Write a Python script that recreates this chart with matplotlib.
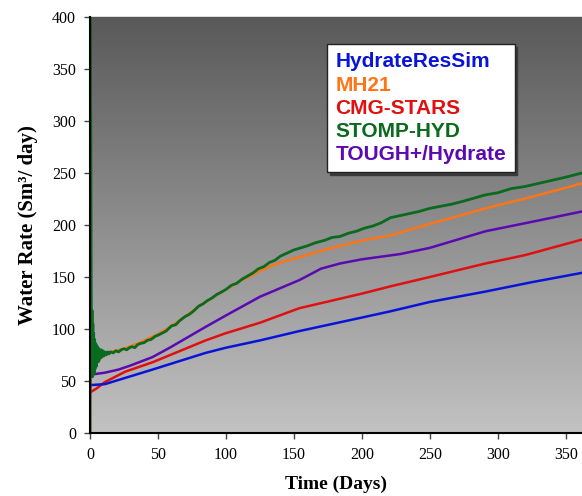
import numpy as np
import matplotlib
matplotlib.use("Agg")
import matplotlib.pyplot as plt
from matplotlib.lines import Line2D
from matplotlib.colors import LinearSegmentedColormap

# ---------------- data ----------------
names = ["HydrateResSim", "MH21", "CMG-STARS", "STOMP-HYD", "TOUGH+/Hydrate"]
colors = ["#0a14d8", "#ff7414", "#e01010", "#0a6a1e", "#5a0ab0"]

hrs_t = [0, 11, 26, 46, 85, 100, 125, 154, 200, 221, 250, 291, 325, 362]
hrs_v = [46, 47, 53, 61, 77, 82, 89, 98, 111, 117, 126, 136, 145, 154]

mh21_t = [0, 5, 15, 25, 35, 50, 60, 70, 80, 90, 100, 110, 118, 125, 140, 154, 175,
          200, 221, 250, 291, 325, 362]
mh21_v = [72, 74, 78, 81, 86, 95, 103, 112, 122, 130, 138, 146, 151, 156, 164, 169,
          177, 185, 190, 201, 216, 227, 240]

cmg_t = [0, 0, 0, 5, 11, 26, 46, 85, 100, 125, 154, 200, 221, 250, 291, 320, 362]
cmg_v = [0, 65, 39, 43, 49, 59, 68, 89, 96, 106, 120, 134, 141, 150, 163, 171, 186]

stomp_t = [0, 0, 0.3, 0.6, 0.9, 1.2, 1.5, 1.8, 2.1, 2.4, 2.7, 3.0, 3.4, 3.8, 4.2,
           4.6, 5.0, 5.5, 6.0, 6.5, 7.0, 7.6, 8.2, 8.8, 9.5, 10.2, 11, 12, 13, 14,
           15, 17, 19, 21, 23, 25, 27, 29, 31, 33, 35, 37, 40, 42, 45, 48,
           50, 53, 56, 60, 63, 66, 70, 73, 76, 80, 83, 86, 90, 93, 96, 100, 104, 108,
           112, 116, 120, 124, 128, 132, 136, 140, 145, 150, 155, 160, 166, 172, 178,
           184, 190, 196, 202, 208, 214, 221, 228, 235, 242, 250, 258, 266, 275, 283,
           291, 300, 310, 320, 330, 340, 350, 356, 362]
stomp_v = [0, 400, 330, 300, 138, 58, 118, 54, 105, 60, 96, 57, 90, 62, 86,
           64, 84, 68, 82, 69, 80, 72, 80, 73, 79, 74, 78, 75, 78, 76,
           78, 77, 79, 78, 80, 81, 80, 82, 83, 82, 85, 86, 87, 89, 90, 93,
           94, 96, 98, 103, 104, 108, 112, 114, 117, 122, 124, 127, 130, 133, 135, 138, 142, 144,
           148, 151, 154, 158, 160, 164, 166, 170, 173, 176, 178, 180, 183, 185, 188,
           189, 192, 194, 197, 199, 202, 207, 209, 211, 213, 216, 218, 220, 223, 226,
           229, 231, 235, 237, 240, 243, 246, 248, 250]

tough_t = [0, 0, 11, 21, 30, 46, 60, 85, 100, 125, 154, 170, 184, 200, 228, 250,
           291, 325, 362]
tough_v = [101, 56, 58, 61, 65, 73, 83, 102, 113, 131, 147, 158, 163, 167, 172, 178,
           194, 203, 213]

xticks = [0, 50, 100, 150, 200, 250, 300, 350]
yticks = [0, 50, 100, 150, 200, 250, 300, 350, 400]

# ---------------- figure ----------------
fig = plt.figure(figsize=(5.82, 4.96), dpi=100)
ax = fig.add_axes([90 / 582, 63 / 496, 492 / 582, 416 / 496])
ax.set_xlim(0, 362)
ax.set_ylim(0, 400)

# gradient background
cmap = LinearSegmentedColormap.from_list("bg", ["#c2c2c2", "#595959"])
grad = np.linspace(0, 1, 256).reshape(-1, 1)
ax.imshow(grad, cmap=cmap, origin="lower", aspect="auto",
          extent=[0, 362, 0, 400], zorder=0)

series = [(hrs_t, hrs_v), (mh21_t, mh21_v), (cmg_t, cmg_v), (stomp_t, stomp_v),
          (tough_t, tough_v)]
order = [1, 3, 4, 2, 0]
for i in order:
    t, v = series[i]
    ax.plot(t, v, color=colors[i], lw=2.0 if i == 3 else 1.8, zorder=2 + (i == 3) * 0.5)

serif = "Liberation Serif"
ax.set_xticks(xticks)
ax.set_yticks(yticks)
ax.set_xticklabels([str(x) for x in xticks], fontfamily=serif, fontsize=11.5)
ax.set_yticklabels([str(y) for y in yticks], fontfamily=serif, fontsize=11.5)
ax.tick_params(direction="out", length=4, width=1, color="#444444", pad=6)

for s in ["top", "right"]:
    ax.spines[s].set_visible(False)
ax.spines["left"].set_linewidth(1.5)
ax.spines["bottom"].set_linewidth(1.5)
ax.plot([0, 362], [400, 400], color="#555555", lw=1.0, clip_on=False, zorder=1)

ax.set_xlabel("Time (Days)", fontfamily=serif, fontsize=14, fontweight="bold", labelpad=9)
ax.set_ylabel("Water Rate (Sm³/ day)", fontfamily=serif, fontsize=15,
              fontweight="bold", labelpad=10)

handles = [Line2D([], [], color=c, lw=0) for c in colors]
leg = ax.legend(handles, names, loc="upper left", bbox_to_anchor=(0.482, 0.935),
                borderaxespad=0, handlelength=0, handletextpad=0, labelcolor=colors,
                prop={"family": "Liberation Sans", "weight": "bold", "size": 15},
                frameon=True, fancybox=False, shadow={"color": "#3a3a3a", "alpha": 1},
                labelspacing=0.2, borderpad=0.4)
leg.get_frame().set_edgecolor("#222222")
leg.get_frame().set_linewidth(1.0)
leg.get_frame().set_facecolor("white")
leg.get_frame().set_alpha(1)
for txt in leg.get_texts():
    txt.set_ha("left")

fig.savefig("out.png", dpi=100)
